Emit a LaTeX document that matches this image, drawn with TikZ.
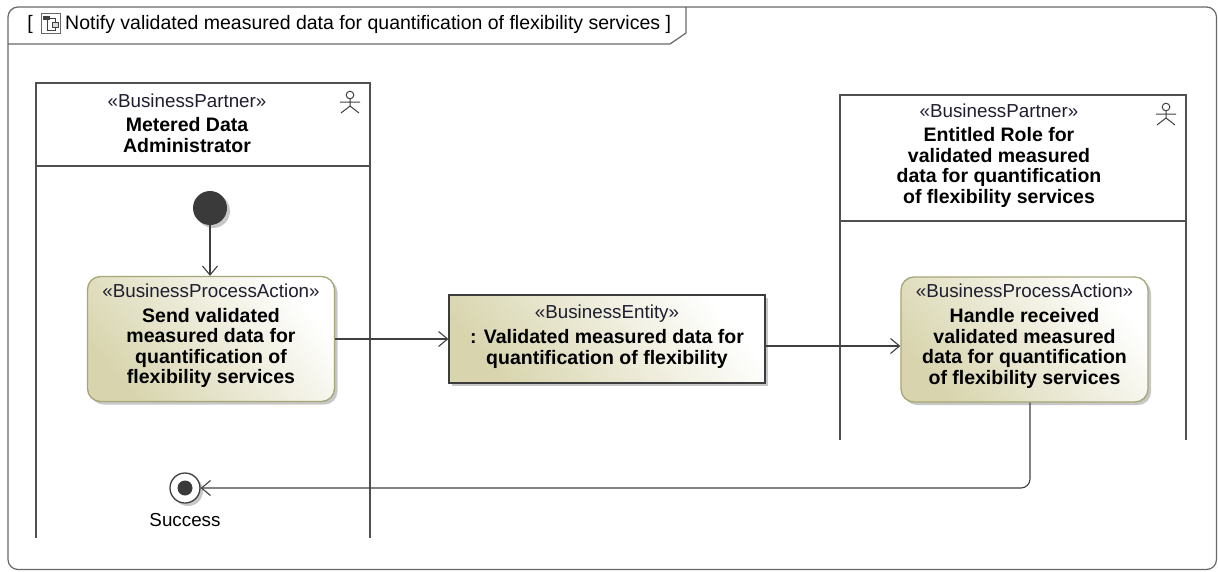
\documentclass[tikz,border=0pt]{standalone}
\usepackage{fontspec}
\setmainfont{Liberation Sans}
\usetikzlibrary{arrows.meta,shadows,calc}
\definecolor{lanec}{HTML}{505050}
\definecolor{framec}{HTML}{686868}
\definecolor{flowc}{HTML}{404040}
\definecolor{actborder}{HTML}{A6A676}
\definecolor{actdark}{HTML}{D8D5AE}
\definecolor{entborder}{HTML}{3C3C3C}
\definecolor{initc}{HTML}{3A3A3A}
\definecolor{sttext}{HTML}{1E1E30}
\newcommand\stfont{\mdseries\fontsize{18.8}{20.5}\selectfont}
\newcommand\ttlfont{\mdseries\fontsize{19.5}{21}\selectfont}
\newcommand\bdfont{\bfseries\fontsize{19.5}{20.5}\selectfont}
\begin{document}
\begin{tikzpicture}[x=1pt,y=-1pt,
  lane/.style={draw=lanec,line width=2.8pt},
  shad/.style={drop shadow={shadow xshift=3pt,shadow yshift=-3pt,fill=black!22,opacity=1}},
  actbox/.style={shad,draw=actborder,line width=1.3pt,rounded corners=13pt,
    left color=actdark,right color=white,shading angle=130,
    minimum width=247pt,minimum height=125pt,inner sep=0pt},
  entbox/.style={shad,draw=entborder,line width=1.2pt,
    left color=actdark,right color=white,shading angle=130,
    minimum width=316pt,minimum height=88pt,inner sep=0pt},
  txt/.style={align=center,font=\bdfont,inner sep=0pt},
  flow/.style={draw=flowc,line width=1.1pt,-{Straight Barb[length=9pt,width=15pt,line width=1.1pt]}},
  umlactor/.pic={
    \draw[line width=1pt,flowc] (0,-7) circle (3.8pt);
    \draw[line width=1pt,flowc] (0,-3.2) -- (0,4) (-10,0) -- (10,0) (-9,11) -- (0,4) -- (9,11);
  }
]
\useasboundingbox (0,0) rectangle (1218,571);
% frame
\draw[framec,line width=1.2pt,rounded corners=10pt] (8,7) rectangle (1216.5,569.5);
\draw[framec,line width=1.2pt] (8,44) -- (670,44) -- (686,33) -- (686,7);
\node[font=\ttlfont,inner sep=0pt] (lbr) at (30,24) {[};
\node[font=\ttlfont,inner sep=0pt,anchor=west] (title) at (65,24) {Notify validated measured data for quantification of flexibility services ]};
% title icon
\draw[framec,line width=0.8pt,fill=white] (41,13) rectangle (60,33);
\fill[flowc] (43,16) rectangle (50,20);
\draw[flowc,line width=0.8pt] (50,18) -- (55,18) -- (55,24);
\draw[flowc,line width=0.8pt,fill=black!15] (52,22) rectangle (58,27);
\draw[flowc,line width=0.8pt] (47,20) -- (47,30) -- (55,30) -- (55,27);
% lanes
\draw[lane] (36,538) -- (36,83) -- (370,83) -- (370,538);
\draw[lane] (36,166) -- (370,166);
\draw[lane] (840,440) -- (840,95) -- (1186,95) -- (1186,440);
\draw[lane] (840,221) -- (1186,221);
\node[txt] (lhead) at (187,123) {{\stfont\color{sttext}«BusinessPartner»}\\[4pt]Metered Data\\Administrator};
\node[txt] (rhead) at (999,155.5) {{\stfont\color{sttext}«BusinessPartner»}\\[4pt]Entitled Role for\\validated measured\\data for quantification\\of flexibility services};
\pic at (350,102) {umlactor};
\pic at (1166,114) {umlactor};
% nodes
\node[shad,circle,fill=initc,minimum size=34pt,inner sep=0pt] (init) at (210,208) {};
\node[actbox] (act1) at (211,339) {};
\node[txt] (act1t) at (211,335.5) {{\stfont\color{sttext}«BusinessProcessAction»}\\[4.5pt]Send validated\\measured data for\\quantification of\\flexibility services};
\node[entbox] (ent) at (607,339) {};
\node[txt] (entt) at (607,336.5) {{\stfont\color{sttext}«BusinessEntity»}\\[5pt]: Validated measured data for\\quantification of flexibility};
\node[actbox] (act2) at (1024.5,339.5) {};
\node[txt] (act2t) at (1024.5,336) {{\stfont\color{sttext}«BusinessProcessAction»}\\[4.5pt]Handle received\\validated measured\\data for quantification\\of flexibility services};
\node[shad,circle,draw=flowc,line width=1.3pt,fill=white,minimum size=30pt,inner sep=0pt] (final) at (185,488) {};
\fill[initc] (final.center) circle (7.5pt);
\node[font=\stfont,inner sep=0pt] (succ) at (185,520) {Success};
% flows
\draw[flow] (init) -- (init |- act1.north);
\draw[flow] (act1) -- (ent);
\draw[flow] ([yshift=-7pt]ent.east) -- ([yshift=-7pt]ent.east -| act2.west);
\draw[flow,rounded corners=9pt] ([xshift=5.5pt]act2.south) |- (final);
\end{tikzpicture}
\end{document}
